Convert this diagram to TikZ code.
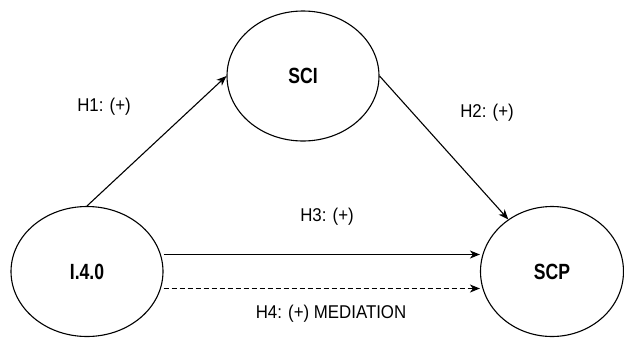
\documentclass[tikz,border=0pt]{standalone}
\usepackage{fontspec}
\setmainfont{Liberation Sans}
\newfontfamily\condfont{Liberation Sans}[FakeStretch=0.8]
\newfontfamily\hypfont{Liberation Sans}[FakeStretch=0.91]
\usetikzlibrary{arrows.meta,shapes}

\begin{document}
\begin{tikzpicture}[x=1pt,y=-1pt,node distance=465pt,>={Stealth[length=10pt,width=8pt,inset=3pt]},auto]
        \tikzstyle{construct}=[ellipse,draw,line width=1.1pt,minimum width=152pt,minimum height=130pt,inner sep=0pt,font=\condfont\fontsize{22}{24}\selectfont\bfseries]
        \tikzstyle{hyp}=[font=\hypfont\fontsize{18.5}{21}\selectfont]
        \tikzstyle{path}=[->,line width=1.1pt]
        \useasboundingbox (0,0) rectangle (624,338);

        \node [construct] (i40) at (87,271.5) {I.4.0}; %independent
        \node [construct,minimum width=143pt] (scp) [right of=i40] {SCP}; %dependent
        \node [construct] (sci) at (303,76) {SCI}; %mediator

        \draw [path] (i40.north) -- (sci.west);
        \draw [path] (sci.east) -- (scp.130);
        \draw [path] ([yshift=17pt]i40.east) -- ([yshift=17pt]i40.east -| scp.west);
        \draw [path,dash pattern=on 5pt off 3pt] ([yshift=-17pt]i40.east) -- ([yshift=-17pt]i40.east -| scp.west);

        \node [hyp] (h1) at (104,107) {H1: (+)};
        \node [hyp] (h2) at (487,113) {H2: (+)};
        \node [hyp] (h3) at (327,217) {H3: (+)};
        \node [hyp] (h4) at (331,314) {H4: (+) MEDIATION};
    \end{tikzpicture}
\end{document}
